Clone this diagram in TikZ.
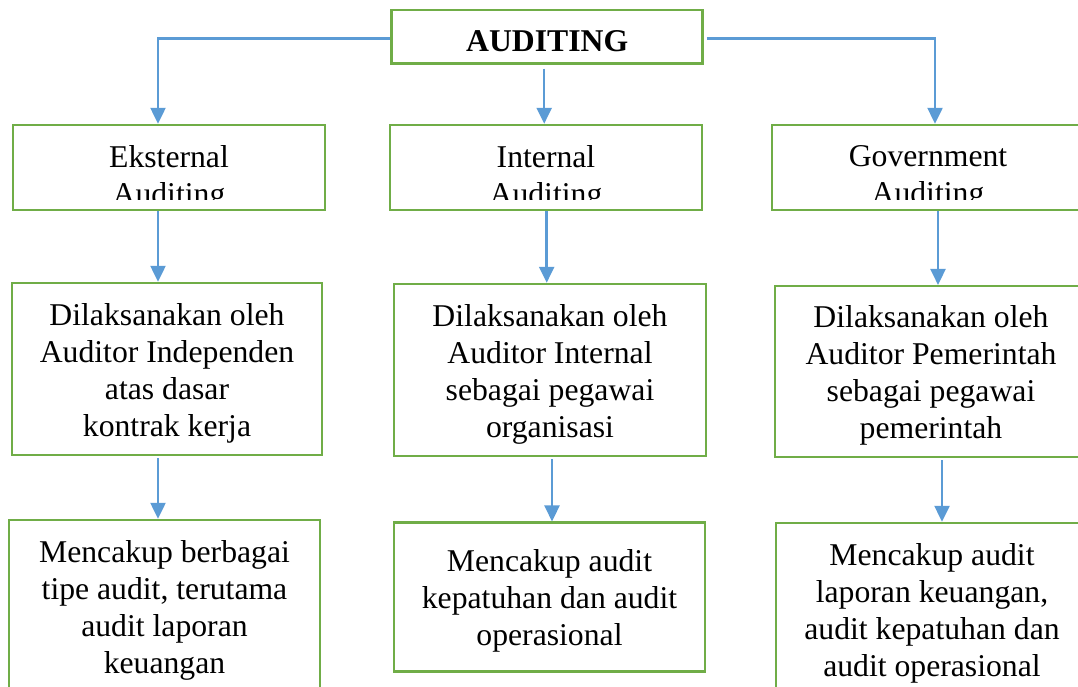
\documentclass[tikz,border=0pt]{standalone}
\usepackage{fontspec}
\setmainfont{Liberation Serif}
\usepackage{tikz}
\usepackage{xcolor}
\usetikzlibrary{calc,arrows.meta}
\definecolor{boxgreen}{HTML}{70AD47}
\definecolor{arrowblue}{HTML}{5B9BD5}
\newcommand{\topstrut}{\rule{0pt}{30pt}}% first line sits a bit low, as in the original
\tikzstyle{auditbox} = [
    draw=boxgreen,
    line width=2.5pt,
    rectangle,
    align=center,
    minimum width=312pt,
    font=\fontsize{31.7pt}{37pt}\selectfont
    ]
\tikzstyle{boxtext} = [
    align=center,
    inner sep=0pt,
    font=\fontsize{31.7pt}{37pt}\selectfont
    ]
\tikzstyle{arr} = [
    draw=arrowblue,
    line width=2.5pt,
    -{Triangle[width=15pt,length=16pt]}
    ]

\begin{document}
\begin{tikzpicture}[x=1pt,y=-1pt]
\clip (0,0) rectangle (1078,686);

% top
\node[auditbox, minimum width=311pt, minimum height=53.3pt, text height=28.6pt, text depth=0pt,
      font=\fontsize{31.7pt}{37pt}\selectfont\bfseries] (audit) at (547.2,36.7) {AUDITING};

% jenis auditing
\node[auditbox, minimum height=85pt] (ekst) at (169,167.5) {};
\node[auditbox, minimum height=85pt] (intern) at (546,167.5) {};
\node[auditbox, minimum height=85pt] (gov) at (928,167.5) {};
\begin{scope}
\clip (ekst.north west) rectangle ([yshift=12pt]ekst.south east);
\node[boxtext] (ekst-t) at (169,178) {Eksternal\\Auditing};
\end{scope}
\begin{scope}
\clip (intern.north west) rectangle ([yshift=12pt]intern.south east);
\node[boxtext] (intern-t) at (546,178) {Internal\\Auditing};
\end{scope}
\begin{scope}
\clip (gov.north west) rectangle ([yshift=12pt]gov.south east);
\node[boxtext] (gov-t) at (928,178) {Government\\Auditing};
\end{scope}

% pelaksana
\node[auditbox, minimum width=310pt, minimum height=172pt] (ekstB) at (167,369)
    {\topstrut Dilaksanakan oleh\\Auditor Independen\\atas dasar\\kontrak kerja};
\node[auditbox, minimum height=172pt] (internB) at (550,370)
    {\topstrut Dilaksanakan oleh\\Auditor Internal\\sebagai pegawai\\organisasi};
\node[auditbox, minimum height=171pt] (govB) at (931,371.7)
    {\topstrut Dilaksanakan oleh\\Auditor Pemerintah\\sebagai pegawai\\pemerintah};

% cakupan
\node[auditbox, minimum width=311pt, minimum height=172pt] (ekstC) at (164.5,606)
    {\topstrut Mencakup berbagai\\tipe audit, terutama\\audit laporan\\keuangan};
\node[auditbox, minimum width=311pt, minimum height=149pt] (internC) at (549.5,597.2)
    {\topstrut Mencakup audit\\kepatuhan dan audit\\operasional};
\node[auditbox, minimum height=172pt] (govC) at (932,609)
    {\topstrut Mencakup audit\\laporan keuangan,\\audit kepatuhan dan\\audit operasional};

% panah
\draw[arr] ([yshift=-2pt]audit.west) -| ([xshift=-11pt]ekst.north);
\draw[arr] ([xshift=3pt,yshift=-2pt]audit.east) -| ([xshift=7pt]gov.north);
\draw[arr, shorten <=4pt] ([xshift=-3pt]audit.south) -- ([xshift=-3pt]audit.south |- intern.north);

\draw[arr] ([xshift=-11pt]ekst.south) -- ([xshift=-11pt]ekst.south |- ekstB.north);
\draw[arr] ([xshift=0.7pt]intern.south) -- ([xshift=0.7pt]intern.south |- internB.north);
\draw[arr] ([xshift=10pt]gov.south) -- ([xshift=10pt]gov.south |- govB.north);

\draw[arr, shorten <=2pt] ([xshift=-9pt]ekstB.south) -- ([xshift=-9pt]ekstB.south |- ekstC.north);
\draw[arr, shorten <=2pt] ([xshift=2pt]internB.south) -- ([xshift=2pt]internB.south |- internC.north);
\draw[arr, shorten <=2pt] ([xshift=11pt]govB.south) -- ([xshift=11pt]govB.south |- govC.north);
\end{tikzpicture}
\end{document}
